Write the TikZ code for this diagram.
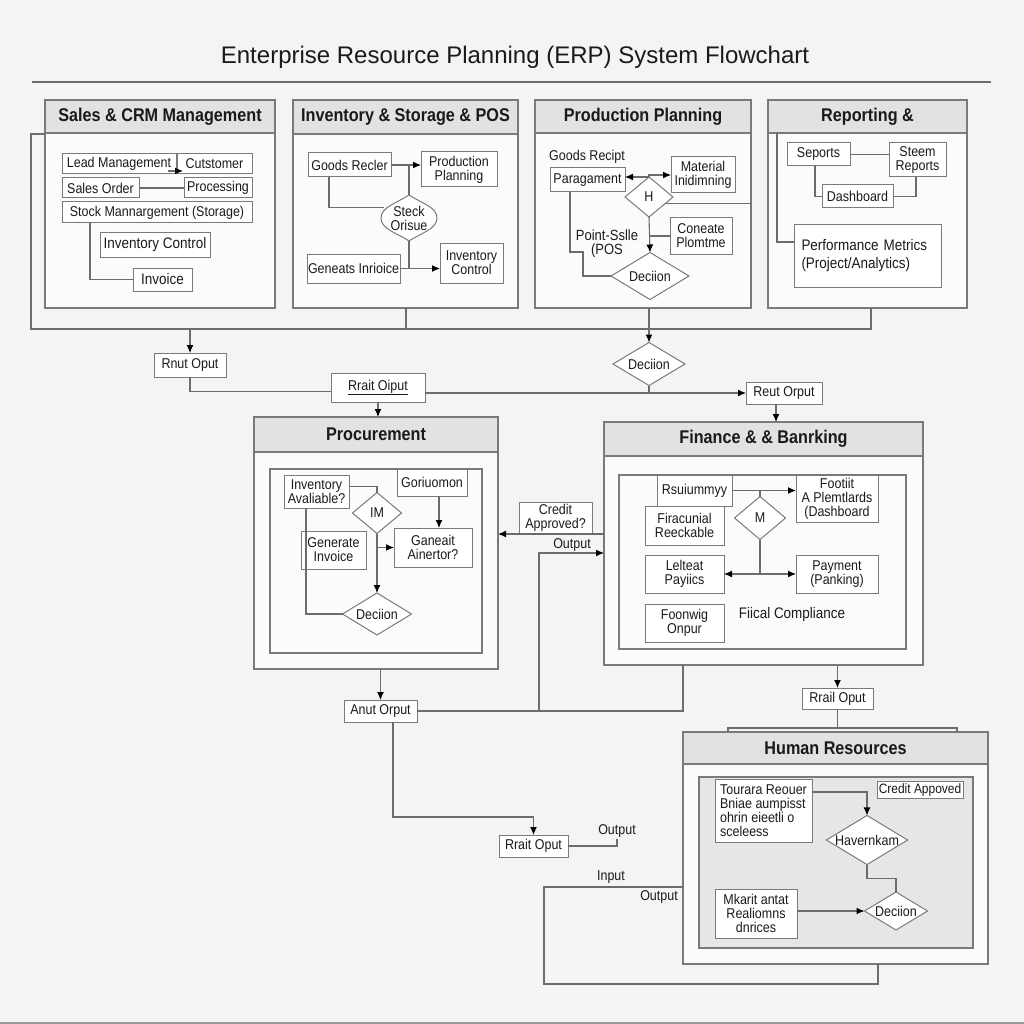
\documentclass[tikz,border=0pt]{standalone}
\usepackage{fontspec}
\setmainfont[FakeStretch=0.88]{Liberation Sans}
\newfontfamily\titlefont{Liberation Sans}
\usetikzlibrary{arrows.meta,shapes.geometric}
\definecolor{bgc}{HTML}{F4F4F4}
\definecolor{pfc}{HTML}{FBFBFB}
\definecolor{hfc}{HTML}{E2E2E2}
\definecolor{ifc}{HTML}{E6E6E6}
\definecolor{lnc}{HTML}{6C6C6C}
\definecolor{bdc}{HTML}{7A7A7A}
\definecolor{txc}{HTML}{1A1A1A}
\newcommand\fsz[2]{\fontsize{#1}{#2}\selectfont}
\newcommand\bxat[7][bx]{\node[#1,minimum width={(#5-#3)*1pt},minimum height={(#6-#4)*1pt}] (#2) at ({(#3+#5)/2},{(#4+#6)/2}) {#7};}
\newcommand\dmat[6]{\pgfmathsetmacro\dasp{#4/#5}\node[dmd,aspect=\dasp,minimum width={#4*1pt},minimum height={#5*1pt}] (#1) at (#2,#3) {#6};}
\newcommand\panelat[7]{\bxat[pnl]{#1}{#2}{#3}{#4}{#5}{}
 \filldraw[hdrs] (#2,#3) rectangle (#4,#6);
 \node[htxt] (#1h) at ({(#2+#4)/2},{(#3+#6)/2}) {#7};}
\begin{document}
\begin{tikzpicture}[x=1pt,y=-1pt,
 ln/.style={draw=lnc,line width=1.1pt},
 arr/.style={ln,-{Latex[length=8pt,width=7pt,color=black]}},
 bx/.style={draw=bdc,line width=1pt,fill=white,inner sep=1pt,outer sep=0pt,font=\fsz{14.2}{14},text=txc,align=center},
 bxl/.style={bx,font=\fsz{15.3}{16}},
 pnl/.style={draw=bdc,line width=1.2pt,fill=pfc,inner sep=0pt,outer sep=0pt},
 frm/.style={draw=bdc,line width=1.1pt},
 hdrs/.style={fill=hfc,draw=bdc,line width=1.2pt},
 htxt/.style={font=\bfseries\fsz{18.4}{21},text=txc,inner sep=0pt},
 dmd/.style={diamond,draw=bdc,line width=1pt,fill=white,inner sep=0pt,outer sep=0pt,font=\fsz{14.2}{14},text=txc},
 lbl/.style={font=\fsz{14.2}{14},text=txc,inner sep=0pt,align=center}]
\useasboundingbox (0,0) rectangle (1024,1024);
\fill[bgc] (0,0) rectangle (1024,1024);
% title
\node[font=\titlefont\fsz{24}{28},text=txc,inner sep=0pt] (title) at (515,57) {Enterprise Resource Planning (ERP) System Flowchart};
\draw[draw=lnc,line width=1.2pt] (32,82) -- (991,82);
\draw[draw=lnc!70,line width=1.5pt] (0,1023) -- (1024,1023);

% ---------- Sales & CRM
\panelat{pa}{45}{100}{275}{308}{133}{Sales \& CRM Management}
\bxat{lead}{62}{154}{176}{174}{Lead Management}
\bxat{cust}{177}{154}{252}{174}{Cutstomer}
\bxat{so}{62}{178}{139}{198}{Sales Order}
\bxat{prc}{184}{178}{252}{198}{Processing}
\bxat{stock}{62}{202}{252}{223}{Stock Mannargement (Storage)}
\bxat[bxl]{ictl}{100}{233}{210}{257}{Inventory Control}
\bxat[bxl]{inv}{133}{268}{192}{291}{Invoice}
\draw[ln] (so.east) -- (prc.west);
\draw[arr] ([xshift=-8pt,yshift=3pt]lead.south east) -- ([xshift=6pt,yshift=3pt]cust.south west);
\draw[ln] (stock.south -| 90,0) |- (inv.west);

% ---------- Inventory & Storage & POS
\panelat{pb}{293}{100}{518}{308}{134}{Inventory \& Storage \& POS}
\bxat{gr}{308}{153}{391}{177}{Goods Recler}
\bxat{pp}{421}{152}{497}{187}{Production\\Planning}
\filldraw[draw=bdc,line width=1pt,fill=white] (409,195) .. controls (421,203) and (437,207) .. (437,218) .. controls (437,229) and (421,233) .. (409,241) .. controls (397,233) and (381,229) .. (381,218) .. controls (381,207) and (397,203) .. (409,195);
\node[ellipse,minimum width=56pt,minimum height=46pt,inner sep=0pt,outer sep=0pt,lbl] (steck) at (409,218) {Steck\\Orisue};
\bxat{gi}{309}{254}{398}{283}{Geneats Inrioice}
\bxat{icb}{440}{243}{503}{283}{Inventory\\Control}
\draw[arr] (gr.east) -- (gr.east -| pp.west);
\draw[ln] (gr.east -| steck.north) -- (steck.north);
\draw[ln] (gr.south -| 329,0) |- (steck.158);
\draw[ln] (steck.south) -- (steck.south |- gi.east);
\draw[arr] (gi.east) -- (gi.east -| icb.west);

% ---------- Production Planning
\panelat{pc}{535}{100}{751}{308}{133}{Production Planning}
\node[lbl,anchor=west] (grl) at (549,157) {Goods Recipt};
\bxat{para}{550}{168}{625}{192}{Paragament}
\bxat{mat}{671}{157}{735}{193}{Material\\Inidimning}
\dmat{hd}{649}{197}{48}{40}{H}
\bxat{con}{670}{218}{732}{254}{Coneate\\Plomtme}
\node[lbl,font=\fsz{14.8}{14}] (posl) at (607,244) {Point-Sslle\\(POS};
\dmat{dec2}{650}{276}{78}{47}{Deciion}
\draw[arr] (hd.north) |- (mat.west);
\draw[arr] (hd.north) -- (hd.north -| para.east);
\draw[ln] (hd.-20) -- (hd.-20 -| pc.east);
\draw[arr] (hd.south) -- (dec2.north);
\draw[ln] (hd.south |- con.west) -- (con.west);
\draw[ln] (para.south -| 570,0) |- (583,252) |- (dec2.west);

% ---------- Reporting
\panelat{pd}{768}{100}{967}{308}{133}{Reporting \&}
\bxat{sep}{787}{143}{850}{166}{Seports}
\bxat{steem}{889}{143}{946}{177}{Steem\\Reports}
\bxat{dash}{822}{185}{893}{208}{Dashboard}
\node[bx,font=\fsz{15.3}{18},align=left,minimum width=147pt,minimum height=62pt,text width=132pt] (perf) at (867.5,256) {Performance Metrics\\(Project/Analytics)};
\draw[ln] (sep.east) -- (sep.east -| steem.west);
\draw[ln] (sep.south -| 815,0) |- (dash.west);
\draw[ln] (steem.south -| 916,0) |- (dash.east);
\draw[ln] (pd.west |- 0,133) ++(9,0) |- ([yshift=14pt]perf.west);

% ---------- bus
\coordinate (busL) at (31,329);
\coordinate (busR) at (871,329);
\draw[ln] (pa.west |- 0,134) -| (busL) -- (busR) -- (pd.south -| busR);
\draw[ln] (pb.south -| 406,0) -- (busL -| 406,0);
\bxat{rnut}{154}{353}{226}{377}{Rnut Oput}
\bxat{rrt}{331}{373}{425}{402}{\underline{Rrait Oiput}}
\dmat{dec1}{649}{364}{72}{43}{Deciion}
\bxat{reut}{746}{382}{822}{404}{Reut Orput}
\draw[arr] (pc.south -| dec1.north) -- (dec1.north);
\draw[arr] (busL -| rnut.north) -- (rnut.north);
\draw[ln] (rnut.south) |- ([yshift=-4pt]rrt.west);
\draw[arr] (rrt.east |- reut.west) -- (reut.west);
\draw[ln] (dec1.south) -- (dec1.south |- reut.west);

% ---------- Procurement
\panelat{pe}{254}{417}{498}{669}{452}{Procurement}
\draw[frm] (270,469) rectangle (482,653);
\bxat{ia}{284}{475}{349}{508}{Inventory\\Avaliable?}
\bxat{gor}{397}{469}{467}{496}{Goriuomon}
\dmat{im}{377}{513}{49}{41}{IM}
\bxat{gan}{394}{528}{472}{567}{Ganeait\\Ainertor?}
\bxat{ginv}{301}{531}{366}{569}{Generate\\Invoice}
\dmat{dec3}{377}{614}{69}{42}{Deciion}
\draw[ln] ([yshift=5pt]ia.east) -| (im.north);
\draw[arr] (gor.south -| 439,0) -- (gan.north -| 439,0);
\draw[arr] (im.south) -- (dec3.north);
\draw[arr] (im.south |- gan.west) -- (gan.west);
\draw[ln] (ia.south -| 306,0) |- (dec3.west);
\draw[arr] (rrt.south) -- (rrt.south |- pe.north);

% ---------- Finance
\panelat{pf}{604}{422}{923}{665}{456}{Finance \& \& Banrking}
\draw[frm] (619,475) rectangle (906,649);
\bxat{rsu}{657}{475}{732}{506}{Rsuiummyy}
\bxat{frac}{645}{506}{724}{545}{Firacunial\\Reeckable}
\dmat{mm}{760}{518}{51}{43}{M}
\bxat{foot}{796}{475}{878}{522}{Footiit\\A Plemtlards\\(Dashboard}
\bxat{lel}{645}{555}{724}{593}{Lelteat\\Payiics}
\bxat{pay}{796}{555}{878}{593}{Payment\\(Panking)}
\bxat{foon}{645}{604}{724}{642}{Foonwig\\Onpur}
\node[lbl,font=\fsz{15.3}{15}] (fisc) at (792,615) {Fiical Compliance};
\draw[arr] (rsu.east) -- (rsu.east -| foot.west);
\draw[ln] (rsu.east -| mm.north) -- (mm.north);
\draw[ln] (mm.south) -- (mm.south |- lel.east);
\draw[arr] (mm.south |- lel.east) -- (lel.east);
\draw[arr] (mm.south |- pay.west) -- (pay.west);
\draw[arr] (reut.south -| 776,0) -- (pf.north -| 776,0);

% between procurement and finance
\bxat{cred}{519}{502}{592}{534}{Credit\\Approved?}
\node[lbl] (outl1) at (572,545) {Output};
\draw[arr] (cred.south -| pf.west) -- (cred.south -| pe.east);

% ---------- lower left chain
\bxat{anut}{344}{700}{417}{722}{Anut Orput}
\draw[arr] (pe.south -| anut.north) -- (anut.north);
\draw[ln] (anut.east) -| (pf.south -| 683,0);
\draw[arr] (anut.east -| 539,0) |- (pf.west |- 0,553);
\bxat{rrt2}{499}{835}{568}{857}{Rrait Oput}
\draw[arr] (anut.south -| 393,0) |- (rrt2.north |- 0,817) -- (rrt2.north);
\draw[ln] (rrt2.east) -| (617,839);
\node[lbl] (outl2) at (617,831) {Output};

% ---------- Human Resources
\bxat{rrl}{802}{688}{873}{709}{Rrail Oput}
\draw[arr] (pf.south -| rrl.north) -- (rrl.north);
\panelat{ph}{683}{732}{988}{964}{764}{Human Resources}
\filldraw[draw=bdc,line width=1.1pt,fill=ifc] (699,777) rectangle (973,948);
\bxat[bx,align=left]{tour}{715}{779}{812}{842}{Tourara Reouer\\Bniae aumpisst\\ohrin eieetli o\\sceleess}
\bxat[bx,font=\fsz{13.6}{14}]{cred2}{877}{781}{963}{798}{Credit Appoved}
\dmat{hav}{867}{840}{81}{49}{Havernkam}
\dmat{hdec}{896}{911}{63}{38}{Deciion}
\bxat{mk}{715}{889}{797}{938}{Mkarit antat\\Realiomns\\dnrices}
\draw[arr] ([yshift=-13pt]tour.north east) -| (hav.north);
\draw[ln] (hav.south) -- ++(0,14) -| (hdec.north);
\draw[arr] (mk.east |- hdec.west) -- (hdec.west);
\draw[ln] (rrl.south) -- ++(0,18);
\draw[ln] (ph.north -| 728,0) -- ++(0,-4) -| (ph.north -| 957,0);
\draw[ln] (ph.south -| 878,0) -- ++(0,20) -| (544,887) -- (ph.west |- 0,887);
\node[lbl] (inl) at (611,877) {Input};
\node[lbl] (outl3) at (659,897) {Output};
\end{tikzpicture}
\end{document}
